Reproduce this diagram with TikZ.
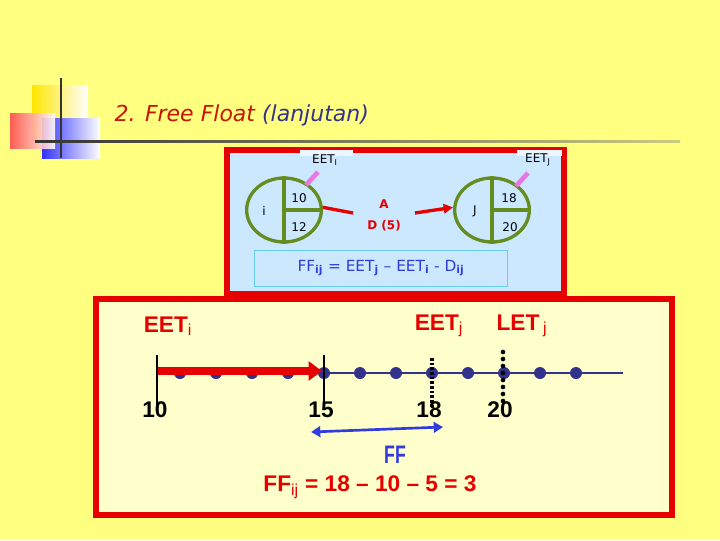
\documentclass[tikz,border=0pt]{standalone}
\usepackage{fontspec}
\setmainfont{Liberation Sans}
\newfontfamily\verd{DejaVu Sans}
\usetikzlibrary{arrows.meta,shapes.geometric}
\definecolor{bgy}{RGB}{255,255,128}
\definecolor{lyel}{RGB}{255,255,204}
\definecolor{lblue}{RGB}{204,232,255}
\definecolor{rred}{RGB}{230,0,0}
\definecolor{ngreen}{RGB}{100,140,30}
\definecolor{navy}{RGB}{50,50,140}
\definecolor{fblue}{RGB}{50,60,220}
\definecolor{pinkb}{RGB}{230,120,230}
\definecolor{ttl}{RGB}{200,20,0}
\tikzset{
  circ/.style={draw=ngreen,line width=2.5pt,ellipse,inner sep=0pt,minimum width=56pt,minimum height=48pt},
  gline/.style={ngreen,line width=2.5pt},
  small/.style={font=\verd\fontsize{9}{10}\selectfont},
  big/.style={font=\bfseries\fontsize{17}{19}\selectfont},
  dot/.style={circle,fill=navy,inner sep=0pt,minimum size=9pt},
}
\begin{document}
\begin{tikzpicture}[x=0.75pt,y=-0.75pt]
\useasboundingbox (0,0) rectangle (720,540);
\fill[bgy] (0,0) rectangle (720,540);
% decoration
\shade[left color=yellow!80!orange,right color=white] (32,85) rectangle (88,140);
\shade[left color=blue!80,right color=white] (42,118) rectangle (100,158);
\shade[left color=red!70,right color=white,opacity=0.9] (10,113) rectangle (55,148);
\draw[line width=1.5pt,black!80] (61,78) -- (61,158);
\shade[left color=black!80,right color=bgy!60!gray] (35,140) rectangle (680,142.5);
\node[anchor=west,font=\verd\itshape\fontsize{16.5}{19}\selectfont] (title) at (110,115) {\textcolor{ttl}{2. Free Float} \textcolor{navy}{(lanjutan)}};
% top box
\draw[rred,line width=4.5pt,fill=lblue] (227,150) rectangle (564,294);
\fill[white!60!lblue] (300,150) rectangle (353,156);
\fill[white!60!lblue] (517,150) rectangle (562,156);
\node[circ] (ni) at (284,210) {};
\node[circ] (nj) at (492,210) {};
\draw[gline] (ni.north) -- (ni.south);
\draw[gline] (ni.center) -- (ni.east);
\draw[gline] (nj.north) -- (nj.south);
\draw[gline] (nj.center) -- (nj.east);
\node[small] (ti) at (264,211) {i};
\node[small] (t10) at (299,198) {10};
\node[small] (t12) at (299,227) {12};
\node[small] (tj) at (475,211) {J};
\node[small] (t18) at (509,198) {18};
\node[small] (t20) at (510,227) {20};
\node[small,text=rred,font=\verd\bfseries\fontsize{9}{10}\selectfont] (tA) at (384,204) {A};
\node[small,text=rred,font=\verd\bfseries\fontsize{9}{10}\selectfont] (tD) at (384,226) {D (5)};
\coordinate (a0) at ([yshift=2pt]ni.east);
\coordinate (a1) at (353,213);
\coordinate (a2) at (415,213);
\coordinate (a3) at ([yshift=2pt]nj.west);
\draw[rred,line width=2.5pt] (a0) -- (a1);
\draw[rred,line width=2.5pt,-{Triangle[length=7pt,width=7pt]}] (a2) -- (a3);
\coordinate (pi1) at (306,185); \coordinate (pi2) at (318,172);
\coordinate (pj1) at (516,186); \coordinate (pj2) at (528,173);
\draw[pinkb,line width=3.5pt] (pi1) -- (pi2);
\draw[pinkb,line width=3.5pt] (pj1) -- (pj2);
\node[small] (eeti) at (325,160) {EET\textsubscript{I}};
\node[small] (eetj) at (538,160) {EET\textsubscript{J}};
\node[draw=cyan!60,line width=0.6pt,minimum width=190pt,minimum height=27pt,text=fblue,font=\verd\fontsize{11.5}{13}\selectfont] (form) at (381,268) {FF\textsubscript{\bfseries ij} = EET\textsubscript{\bfseries j} – EET\textsubscript{\bfseries i} - D\textsubscript{\bfseries ij}};
% bottom box
\draw[rred,line width=4pt,fill=lyel] (96,299) rectangle (672,515);
\coordinate (ax1) at (157,373); \coordinate (ax2) at (623,373);
\draw[navy,line width=2pt] (ax1) -- (ax2);
\foreach \x [count=\k] in {180,216,252,288,324,360,396,432,468,504,540,576} \node[dot] (d\k) at (\x,373) {};
\coordinate (r1) at (157,371); \coordinate (r2) at (322,371);
\draw[rred,line width=6pt,-{Triangle[length=10pt,width=14pt]}] (r1) -- (r2);
\coordinate (k1a) at (157,355); \coordinate (k1b) at (157,410);
\coordinate (k2a) at (324,355); \coordinate (k2b) at (324,410);
\draw[line width=2pt] (k1a) -- (k1b);
\draw[line width=2pt] (k2a) -- (k2b);
\coordinate (k3a) at (432,358); \coordinate (k3b) at (432,408);
\draw[line width=2.5pt,dash pattern=on 2pt off 1.5pt] (k3a) -- (k3b);
\foreach \y [count=\k] in {352,359,366,373,380,387,394,401} \node[circle,fill=black,inner sep=0pt,minimum size=3.5pt] (ld\k) at (503,\y) {};
\node[big,text=rred] (Leeti) at (168,326) {EET\textsubscript{\mdseries i}};
\node[big,text=rred] (Leetj) at (439,326) {EET\textsubscript{\mdseries j}};
\node[big,text=rred] (Lletj) at (522,326) {LET\,\textsubscript{\mdseries j}};
\node[big] (n10) at (155,410) {10};
\node[big] (n15) at (321,410) {15};
\node[big] (n18) at (429,410) {18};
\node[big] (n20) at (500,410) {20};
\coordinate (f1) at (311,432); \coordinate (f2) at (443,427);
\draw[fblue,line width=2pt,{Triangle[length=7pt,width=8pt]}-{Triangle[length=7pt,width=8pt]}] (f1) -- (f2);
\node[text=fblue,font=\bfseries\fontsize{19}{21}\selectfont\addfontfeatures{FakeStretch=0.7}] (ff) at (395,455) {FF};
\node[big,text=rred] (res) at (370,487) {FF\textsubscript{\mdseries ij} = 18 – 10 – 5 = 3};
\end{tikzpicture}
\end{document}
